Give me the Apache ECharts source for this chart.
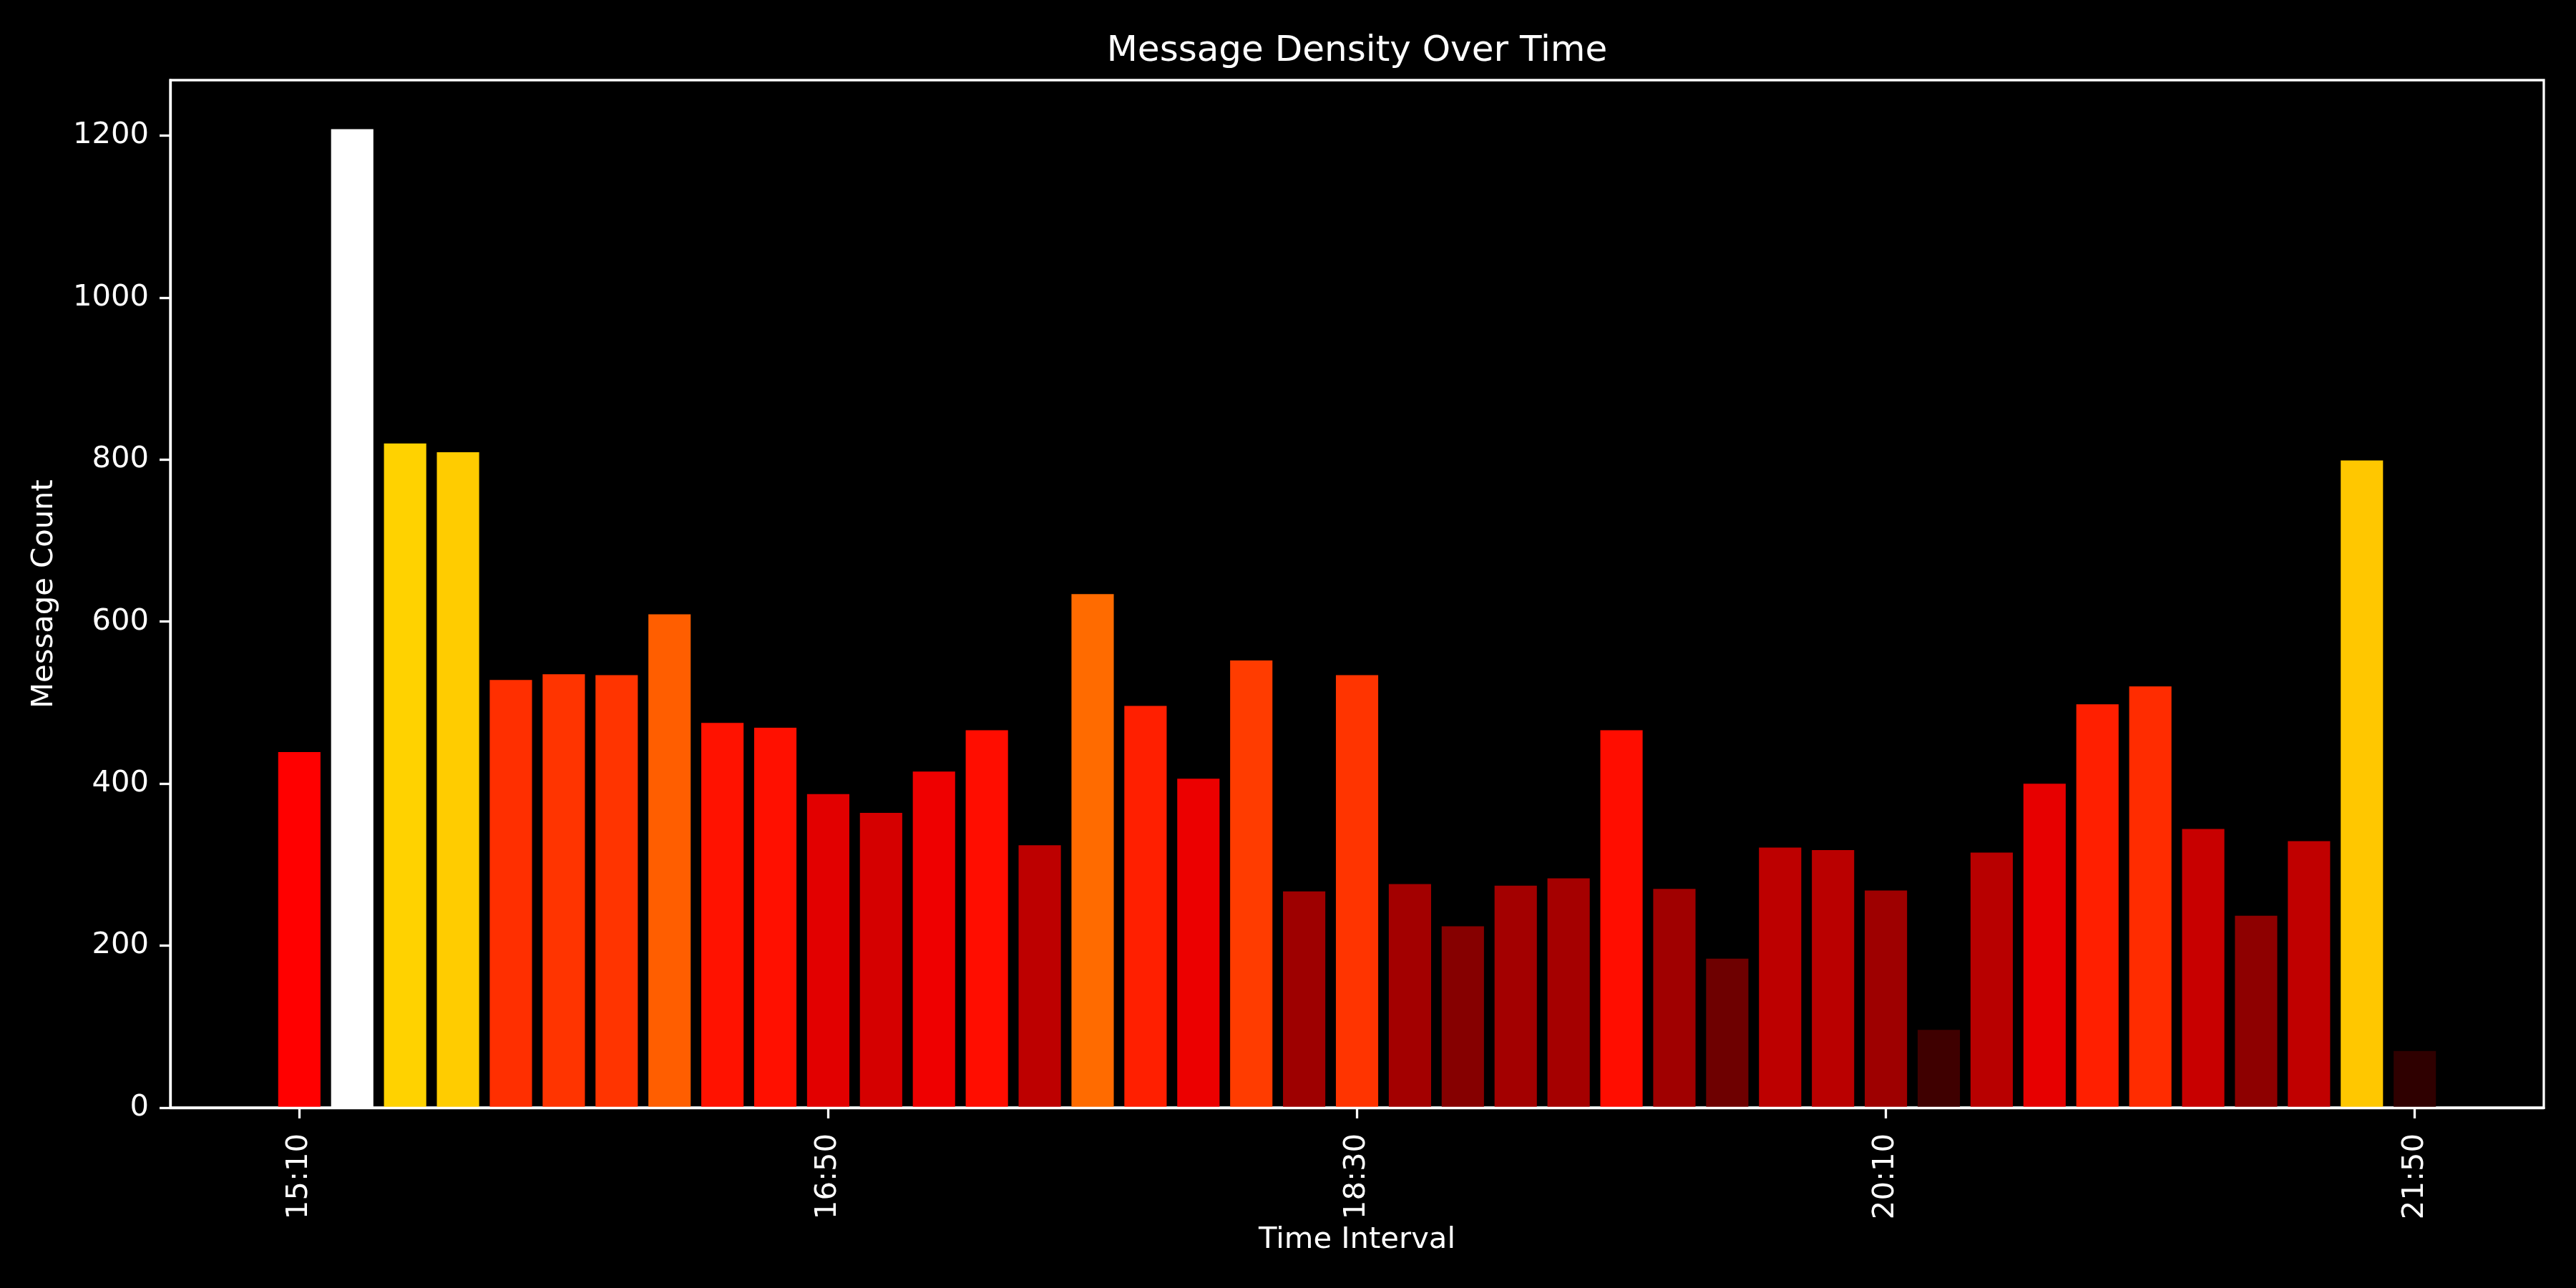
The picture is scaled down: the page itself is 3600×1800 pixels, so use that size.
<!DOCTYPE html>
<html>
<head>
<meta charset="utf-8">
<script src="https://cdn.jsdelivr.net/npm/echarts@6/dist/echarts.min.js"></script>
<style>
html,body{margin:0;padding:0;background:#000;}
#chart{width:3600px;height:1800px;}
</style>
</head>
<body>
<div id="chart"></div>
<script>
// ---- data ----
const timeLabels = ["15:10","15:20","15:30","15:40","15:50","16:00","16:10","16:20","16:30","16:40",
  "16:50","17:00","17:10","17:20","17:30","17:40","17:50","18:00","18:10","18:20",
  "18:30","18:40","18:50","19:00","19:10","19:20","19:30","19:40","19:50","20:00",
  "20:10","20:20","20:30","20:40","20:50","21:00","21:10","21:20","21:30","21:40","21:50"];
const messageCounts = [439, 1208, 820, 809, 528, 535, 534, 609, 475, 469,
  387, 364, 415, 466, 324, 634, 496, 406, 552, 267,
  534, 276, 224, 274, 283, 466, 270, 184, 321, 318,
  268, 96, 315, 400, 498, 520, 344, 237, 329, 799, 70];
const xTickIndices = [0, 10, 20, 30, 40];
const yTickValues = [0, 200, 400, 600, 800, 1000, 1200];

// ---- matplotlib "hot" colormap (256 entries) ----
function interp(pts, x) {
  for (let i = 1; i < pts.length; i++) {
    if (x <= pts[i][0]) {
      const [x0, y0] = pts[i - 1], [x1, y1] = pts[i];
      return y0 + (y1 - y0) * (x - x0) / (x1 - x0);
    }
  }
  return pts[pts.length - 1][1];
}
const R = [[0, 0.0416], [0.365079, 1], [1, 1]];
const G = [[0, 0], [0.365079, 0], [0.746032, 1], [1, 1]];
const B = [[0, 0], [0.746032, 0], [1, 1]];
function hot(t) {
  let idx = Math.floor(t * 256);
  if (idx > 255) idx = 255;
  if (idx < 0) idx = 0;
  const x = idx / 255;
  const c = v => Math.round(Math.max(0, Math.min(1, v)) * 255);
  return 'rgb(' + c(interp(R, x)) + ',' + c(interp(G, x)) + ',' + c(interp(B, x)) + ')';
}
const vmax = Math.max(...messageCounts);

// ---- layout ----
const W = 3600, H = 1800;
const gridLeft = 238, gridRight = 45, gridTop = 112, gridBottom = 252;
const xMin = -2.44, xMax = 42.44;
const yMax = vmax * 1.05;
const plotW = W - gridLeft - gridRight;
const barW = 0.8 * plotW / (xMax - xMin);

const FONT = 'DejaVu Sans';
const fs = 41.7;

const chart = echarts.init(document.getElementById('chart'), null, {renderer: 'canvas', width: W, height: H});
chart.setOption({
  backgroundColor: '#000',
  animation: false,
  title: {
    text: 'Message Density Over Time',
    left: (gridLeft + W - gridRight) / 2,
    top: 47,
    padding: 0,
    textAlign: 'center',
    textStyle: {color: '#fff', fontFamily: FONT, fontSize: 50, fontWeight: 'normal'}
  },
  grid: {
    left: gridLeft, right: gridRight, top: gridTop, bottom: gridBottom,
    show: true, borderColor: '#fff', borderWidth: 3.3, backgroundColor: 'transparent'
  },
  xAxis: {
    type: 'value',
    min: xMin, max: xMax,
    z: 5,
    name: 'Time Interval',
    nameLocation: 'middle',
    nameGap: 164,
    nameTextStyle: {color: '#fff', fontFamily: FONT, fontSize: fs},
    axisLine: {show: true, onZero: false, lineStyle: {color: '#fff', width: 3.3}},
    axisTick: {show: true, length: 15, lineStyle: {color: '#fff', width: 3.3}, customValues: xTickIndices},
    axisLabel: {
      show: true, rotate: 90, margin: 36, color: '#fff', fontFamily: FONT, fontSize: fs,
      customValues: xTickIndices,
      formatter: v => timeLabels[Math.round(v)] || ''
    },
    splitLine: {show: false}
  },
  yAxis: {
    type: 'value',
    min: 0, max: yMax,
    z: 5,
    name: 'Message Count',
    nameLocation: 'middle',
    nameGap: 155,
    nameRotate: 90,
    nameTextStyle: {color: '#fff', fontFamily: FONT, fontSize: fs},
    axisLine: {show: true, onZero: false, lineStyle: {color: '#fff', width: 3.3}},
    axisTick: {show: true, length: 15, lineStyle: {color: '#fff', width: 3.3}, customValues: yTickValues},
    axisLabel: {
      show: true, margin: 30, color: '#fff', fontFamily: FONT, fontSize: fs,
      customValues: yTickValues,
      formatter: v => String(Math.round(v))
    },
    splitLine: {show: false}
  },
  series: [{
    type: 'bar',
    barWidth: barW,
    data: messageCounts.map((v, i) => ({value: [i, v], itemStyle: {color: hot(v / vmax)}}))
  }]
});
</script>
</body>
</html>
